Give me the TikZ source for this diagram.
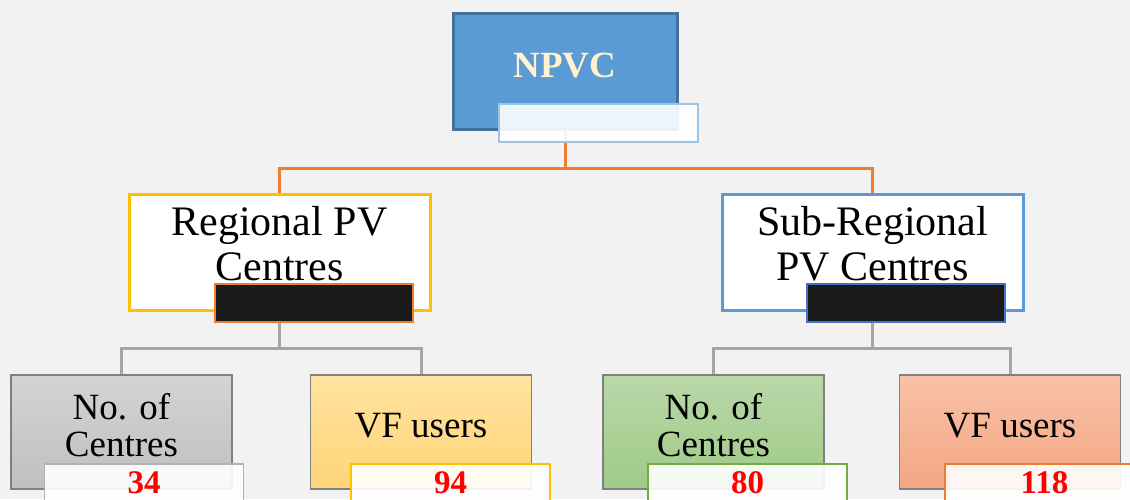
\documentclass[tikz,border=0pt]{standalone}
\usepackage{fontspec}
\setmainfont{Liberation Serif}
\usetikzlibrary{positioning}

\definecolor{pagebg}{HTML}{F2F2F2}
\definecolor{npvcblue}{HTML}{5B9BD5}
\definecolor{npvcedge}{HTML}{41719C}
\definecolor{cream}{HTML}{FFF2CC}
\definecolor{goldline}{HTML}{FFC000}
\definecolor{orangeline}{HTML}{ED7D31}
\definecolor{paleblue}{HTML}{9DC3E6}
\definecolor{royal}{HTML}{4472C4}
\definecolor{greyline}{HTML}{A5A5A5}
\definecolor{greenline}{HTML}{70AD47}
\definecolor{darkfill}{HTML}{1A1A1A}

\begin{document}
\begin{tikzpicture}[x=1pt, y=-1pt,
    unitbox/.style={draw, rectangle, minimum width=301pt, minimum height=116pt, line width=3pt,
        fill=white, align=center, font=\fontsize{42}{45}\selectfont, text depth=17pt},
    leafbox/.style={draw=black!50, rectangle, minimum width=221pt, minimum height=114pt, line width=1.5pt,
        align=center, font=\fontsize{37}{37}\selectfont, text depth=14pt},
    tagbox/.style={draw, rectangle, minimum width=199pt, minimum height=38pt, line width=1.5pt,
        fill=white, fill opacity=0.9, text opacity=1, text=red, font=\bfseries\fontsize{33}{33}\selectfont},
    linkA/.style={orangeline, line width=3pt},
    linkB/.style={greyline, line width=3pt}]

    % Background
    \fill[pagebg] (0,0) rectangle (1130,499);
    \useasboundingbox (0,0) rectangle (1130,499);

    % Define nodes
    \node [draw=npvcedge, fill=npvcblue, line width=3pt, minimum width=224pt, minimum height=116pt,
        text=cream, font=\bfseries\fontsize{37}{37}\selectfont, text depth=12pt] (npvc) at (565,71) {NPVC};

    \node [unitbox, draw=goldline] (regional) at (279.5,252) {Regional PV\\Centres};
    \node [unitbox, draw=npvcblue] (subregional) at (872.5,252) {Sub-Regional\\PV Centres};

    \node [leafbox, top color=black!17, bottom color=black!25] (rcentres) at (121.5,432) {No. of\\Centres};
    \node [leafbox, top color={rgb,255:red,255;green,227;blue,159}, bottom color={rgb,255:red,255;green,212;blue,120},
        right=77pt of rcentres] (rusers) {VF users};
    \node [leafbox, top color={rgb,255:red,184;green,216;blue,168}, bottom color={rgb,255:red,160;green,202;blue,136}] (scentres) at (713.5,432) {No. of\\Centres};
    \node [leafbox, top color={rgb,255:red,249;green,194;blue,168}, bottom color={rgb,255:red,244;green,166;blue,131},
        right=74pt of scentres] (susers) {VF users};

    % Branch points
    \coordinate (topsplit) at (565,168);
    \coordinate (leftsplit) at (279.5,348);
    \coordinate (rightsplit) at (872.5,348);

    % Connectors
    \draw [linkA] (npvc.south) -- (topsplit);
    \draw [linkA] (regional.north) |- (topsplit) -| (subregional.north);
    \draw [linkB] (regional.south) -- (leftsplit);
    \draw [linkB] (rcentres.north) |- (leftsplit) -| (rusers.north);
    \draw [linkB] (subregional.south) -- (rightsplit);
    \draw [linkB] (scentres.north) |- (rightsplit) -| (susers.north);

    % Tags
    \node [tagbox, draw=paleblue, fill=white] (npvctag) at (598.5,123) {};
    \node [tagbox, draw=orangeline, fill=darkfill, fill opacity=1, minimum width=198pt] (regionaltag) at (314,303) {};
    \node [tagbox, draw=royal, fill=darkfill, fill opacity=1, minimum width=198pt] (subregionaltag) at (906,303) {};
    \node [tagbox, draw=black!30] (rcentrestag) at (144,483) {34};
    \node [tagbox, draw=goldline] (ruserstag) at (450.5,483) {94};
    \node [tagbox, draw=greenline] (scentrestag) at (747.5,483) {80};
    \node [tagbox, draw=orangeline] (suserstag) at (1044.5,483) {118};
\end{tikzpicture}
\end{document}
